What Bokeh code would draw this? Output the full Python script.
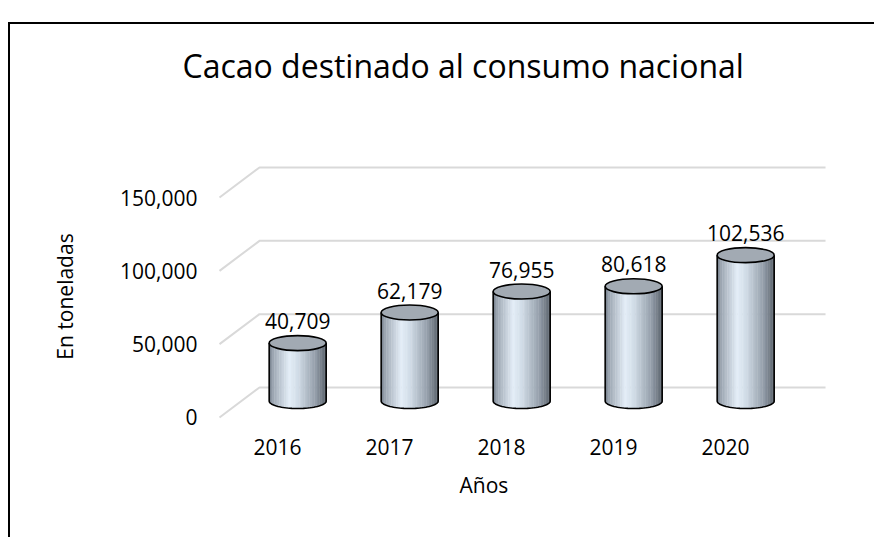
import numpy as np
from bokeh.plotting import figure
from bokeh.models import Range1d, FixedTicker, NumeralTickFormatter, Title
from bokeh.embed import file_html
from bokeh.resources import INLINE
from bokeh.core.properties import value

# ---------------- data ----------------
years = ["2016", "2017", "2018", "2019", "2020"]
tons = [40709, 62179, 76955, 80618, 102536]
y_ticks = [0, 50000, 100000, 150000]
title_text = "Cacao destinado al consumo nacional"
x_label = "Años"
y_label = "En toneladas"

# ---------------- style / geometry ----------------
FONT = "Open Sans"
W, H = 866, 515
ML, MR, MT, MB = 195, 26, 138, 109
X0, X1 = -0.643, 5.116
Y0, Y1 = -8864, 173864
frame_h = H - MT - MB
ppu = frame_h / (Y1 - Y0)            # pixels per value unit
DEPTH_X = 0.357                       # back wall shift, category units
DEPTH_Y = 30 / ppu                    # back wall shift, value units
WALL_X0 = -0.518
WALL_X1 = len(years) - 1 + 0.893
BAR_SHIFT = 0.18
BAR_W = 0.509
BAR_BASE = 16.5 / ppu
BAR_SCALE = 0.97
ELL_H = 15
ehd = (ELL_H / 2) / ppu

p = figure(width=W, height=H, x_range=Range1d(X0, X1), y_range=Range1d(Y0, Y1),
           output_backend="svg", toolbar_location=None,
           min_border_left=ML, min_border_right=MR, min_border_top=MT, min_border_bottom=MB,
           title=title_text)
p.styles = {"margin-top": "22px", "margin-left": "8px",
            "border-top": "2px solid black", "border-left": "2px solid black"}
p.outline_line_color = None
p.grid.visible = False
p.background_fill_color = "white"
p.border_fill_color = "white"

p.title.align = "left"
p.title.offset = -23
p.title.standoff = 10
p.title.text_font = FONT
p.title.text_font_size = "32px"
p.title.text_font_style = "normal"
p.title.text_color = "black"

# spacer between title and plot area
spacer = Title(text=" ", text_font_size="1px", standoff=68)
p.add_layout(spacer, "above")

for ax in (p.xaxis[0], p.yaxis[0]):
    ax.axis_line_color = None
    ax.major_tick_line_color = None
    ax.minor_tick_line_color = None
    ax.major_tick_out = 0
    ax.major_tick_in = 0
    ax.major_label_standoff = 8
    ax.major_label_text_font = FONT
    ax.major_label_text_font_size = "21px"
    ax.major_label_text_color = "black"

p.xaxis.ticker = FixedTicker(ticks=list(range(len(years))))
p.xaxis.major_label_overrides = {i: y for i, y in enumerate(years)}
p.yaxis.ticker = FixedTicker(ticks=y_ticks)
p.yaxis.formatter = NumeralTickFormatter(format="0,0")
p.yaxis.axis_label = y_label
p.yaxis.axis_label_standoff = 38
p.yaxis.axis_label_text_font = FONT
p.yaxis.axis_label_text_font_size = "21px"
p.yaxis.axis_label_text_font_style = "normal"
p.yaxis.axis_label_text_color = "black"

xt = Title(text=x_label, align="left", offset=254, standoff=23,
           text_font=FONT, text_font_size="21px", text_font_style="normal", text_color="black")
p.add_layout(xt, "below")

# ---------------- back wall gridlines ----------------
gx, gy = [], []
for t in y_ticks:
    gx.append([WALL_X0, WALL_X0 + DEPTH_X, WALL_X1])
    gy.append([t, t + DEPTH_Y, t + DEPTH_Y])
p.multi_line(gx, gy, line_color="#d9d9d9", line_width=2)

# ---------------- cylinders ----------------
stops_t = [0.0, 0.08, 0.35, 0.5, 0.8, 1.0]
stops_c = np.array([(118, 128, 140), (160, 170, 182), (228, 238, 248),
                    (210, 221, 232), (150, 160, 172), (92, 100, 110)], dtype=float)

def grad(t):
    r = np.interp(t, stops_t, stops_c[:, 0])
    g = np.interp(t, stops_t, stops_c[:, 1])
    b = np.interp(t, stops_t, stops_c[:, 2])
    return "#%02x%02x%02x" % (int(r), int(g), int(b))

N = 34
cx = [i + BAR_SHIFT for i in range(len(years))]
tops = [BAR_BASE + v * BAR_SCALE for v in tons]

L, R, B, T, C = [], [], [], [], []
arc_x, arc_y = [], []
theta = np.linspace(0, np.pi, 40)
for c, top in zip(cx, tops):
    for k in range(N):
        u0 = -1 + 2 * k / N
        u1 = -1 + 2 * (k + 1) / N
        um = (u0 + u1) / 2
        L.append(c + u0 * BAR_W / 2)
        R.append(c + u1 * BAR_W / 2 + 0.003)
        B.append(BAR_BASE - ehd * np.sqrt(max(0.0, 1 - um * um)))
        T.append(top)
        C.append(grad((um + 1) / 2))
    arc_x.append(list(c + np.cos(theta) * BAR_W / 2))
    arc_y.append(list(BAR_BASE - np.sin(theta) * ehd))

p.quad(left=L, right=R, bottom=B, top=T, fill_color=C, line_color=None)
p.multi_line(arc_x, arc_y, line_color="black", line_width=1.6)
p.segment(x0=[c - BAR_W / 2 for c in cx], y0=[BAR_BASE] * len(cx),
          x1=[c - BAR_W / 2 for c in cx], y1=tops, line_color="black", line_width=1.6)
p.segment(x0=[c + BAR_W / 2 for c in cx], y0=[BAR_BASE] * len(cx),
          x1=[c + BAR_W / 2 for c in cx], y1=tops, line_color="black", line_width=1.6)
p.ellipse(x=cx, y=tops, width=BAR_W, height=ELL_H, height_units="screen",
          fill_color="#a2aab3", line_color="black", line_width=1.6)

p.text(x=cx, y=tops, text=[f"{v:,}" for v in tons], text_align="center",
       text_baseline="alphabetic", y_offset=-22, text_font=value(FONT),
       text_font_size="21px", text_color="black")

open("out.html", "w").write(file_html(p, INLINE))
